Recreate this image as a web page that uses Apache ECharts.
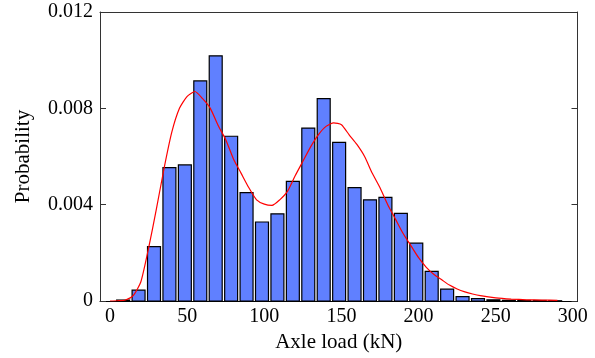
<html lang="en">
<head>
  <meta charset="UTF-8">
  <title>Axle load histogram</title>
  <script src="https://cdn.jsdelivr.net/npm/echarts@6/dist/echarts.min.js"></script>
  <style>
    body { margin: 0; padding: 0; background: #fff; }
    #chart { width: 595px; height: 358px; }
  </style>
</head>
<body>
  <div id="chart"></div>
  <script>
    // histogram bins (centre of each 10 kN bin) and their probabilities
    let binCenters = [8.5, 18.5, 28.5, 38.5, 48.5, 58.5, 68.5, 78.5, 88.5, 98.5,
      108.5, 118.5, 128.5, 138.5, 148.5, 158.5, 168.5, 178.5, 188.5, 198.5,
      208.5, 218.5, 228.5, 238.5, 248.5, 258.5, 268.5, 278.5, 288.5];
    let probs = [0.00004, 0.00045, 0.00226, 0.00554, 0.00565, 0.00914, 0.01018, 0.00684, 0.0045, 0.00328,
      0.00362, 0.00497, 0.00718, 0.0084, 0.00659, 0.00471, 0.0042, 0.0043, 0.00364, 0.0024,
      0.00123, 0.00049, 0.00018, 0.0001, 0.00005, 0.00003, 0.00002, 0.00002, 0.00001];
    let binHalf = 4.2;

    // fitted density curve
    let curveX = [0, 5, 10, 15, 20, 25, 30, 35, 40, 45, 50, 55, 60, 65, 70, 75,
      80, 85, 90, 95, 100, 105, 110, 115, 120, 125, 130, 135, 140, 145, 150,
      155, 160, 165, 170, 175, 180, 185, 190, 195, 200, 205, 210, 215, 220,
      225, 230, 235, 240, 250, 260, 270, 280, 290];
    let curveY = [0, 0.00001, 0.00004, 0.00022, 0.0008, 0.0022, 0.0038, 0.0055, 0.007, 0.008, 0.0085, 0.0087, 0.0084, 0.008, 0.0073, 0.0067,
      0.0059, 0.0053, 0.0047, 0.0042, 0.00402, 0.00397, 0.0042, 0.00455, 0.0052, 0.0058, 0.0064, 0.0069, 0.00725, 0.0074, 0.00732,
      0.0069, 0.0065, 0.006, 0.0053, 0.0047, 0.004, 0.0034, 0.0028, 0.0023, 0.0018, 0.0014, 0.0011, 0.00088, 0.00066,
      0.0005, 0.00038, 0.00029, 0.00022, 0.00013, 0.00008, 0.00005, 0.00004, 0.00003];

    let xTicks = [0, 50, 100, 150, 200, 250, 300];

    let font = 'Liberation Serif';
    let frame = '#333';

    let myChart = echarts.init(document.getElementById('chart'));

    let option = {
      animation: false,
      grid: { left: 100, right: 17.5, top: 12, bottom: 53.5 },
      xAxis: [
        {
          type: 'value',
          min: -6.5,
          max: 303,
          name: 'Axle load (kN)',
          nameLocation: 'middle',
          nameGap: 31,
          nameTextStyle: { fontFamily: font, fontSize: 21, color: '#000' },
          axisLine: { show: true, onZero: false, lineStyle: { color: '#000', width: 1 } },
          axisTick: { show: false },
          splitLine: { show: false },
          axisLabel: {
            customValues: xTicks,
            fontFamily: font, fontSize: 20, color: '#000', margin: 6
          }
        },
        {
          type: 'value',
          position: 'top',
          min: -6.5,
          max: 303,
          axisLine: { show: true, onZero: false, lineStyle: { color: frame, width: 1 } },
          axisTick: { show: false },
          axisLabel: { show: false },
          splitLine: { show: false }
        }
      ],
      yAxis: [
        {
          type: 'value',
          min: 0,
          max: 0.012,
          interval: 0.004,
          name: 'Probability',
          nameLocation: 'middle',
          nameGap: 66,
          nameTextStyle: { fontFamily: font, fontSize: 21, color: '#000' },
          axisLine: { show: true, onZero: false, lineStyle: { color: frame, width: 1 } },
          axisTick: { show: true, inside: true, length: 6, lineStyle: { color: frame } },
          splitLine: { show: false },
          axisLabel: { fontFamily: font, fontSize: 20, color: '#000', margin: 7 }
        },
        {
          type: 'value',
          position: 'right',
          min: 0,
          max: 0.012,
          interval: 0.004,
          axisLine: { show: true, onZero: false, lineStyle: { color: frame, width: 1 } },
          axisTick: { show: true, inside: true, length: 6, lineStyle: { color: frame } },
          axisLabel: { show: false },
          splitLine: { show: false }
        }
      ],
      series: [
        {
          type: 'custom',
          xAxisIndex: 0,
          yAxisIndex: 0,
          data: binCenters.map((c, i) => [c, probs[i]]),
          renderItem: function (params, api) {
            let c = api.value(0);
            let p0 = api.coord([c - binHalf, api.value(1)]);
            let p1 = api.coord([c + binHalf, 0]);
            return {
              type: 'rect',
              shape: { x: p0[0], y: p0[1], width: p1[0] - p0[0], height: p1[1] - p0[1] },
              style: { fill: '#6080ff', stroke: '#000', lineWidth: 1.2 }
            };
          }
        },
        {
          type: 'line',
          xAxisIndex: 0,
          yAxisIndex: 0,
          smooth: 0.2,
          symbol: 'none',
          lineStyle: { color: '#ff0000', width: 1.2 },
          data: curveX.map((x, i) => [x, curveY[i]]),
          z: 5
        }
      ]
    };

    myChart.setOption(option);
  </script>
</body>
</html>
